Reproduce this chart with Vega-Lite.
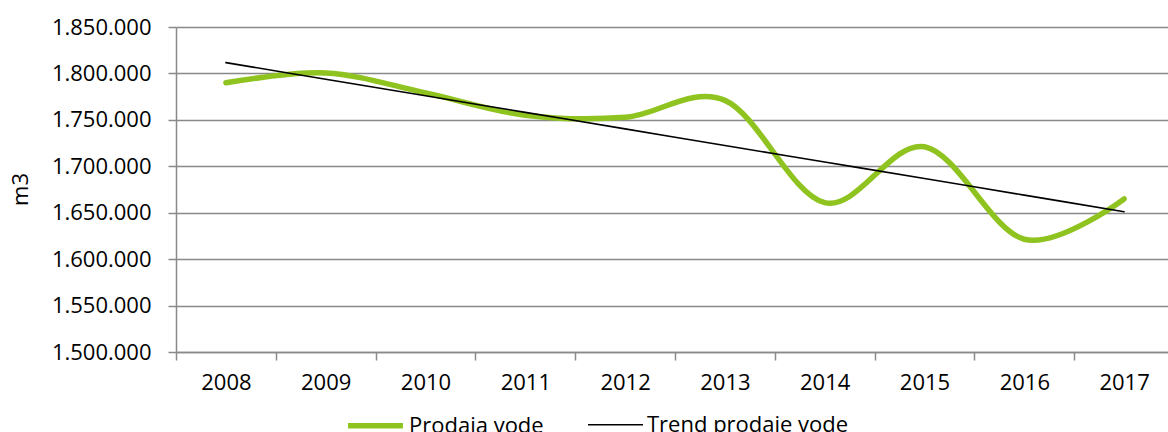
{
  "$schema": "https://vega.github.io/schema/vega-lite/v6.json",
  "autosize": "none",
  "width": 998,
  "height": 325,
  "padding": {"left": 176, "top": 27, "right": 0, "bottom": 80},
  "background": "white",
  "config": {
    "locale": {"number": {"decimal": ",", "thousands": ".", "grouping": [3], "currency": ["", ""]}},
    "font": "Open Sans",
    "view": {"stroke": null},
    "axis": {"labelFont": "Open Sans", "titleFont": "Open Sans", "labelColor": "#000000", "titleColor": "#000000", "domainColor": "#898989", "tickColor": "#898989", "gridColor": "#898989", "domainWidth": 1.5, "tickWidth": 1.5, "gridWidth": 1.5},
    "legend": {"padding": 0, "labelLimit": 400}
  },
  "data": {
    "values": [
      {"year": "2008", "Prodaja vode": 1790000, "Trend prodaje vode": 1811600},
      {"year": "2009", "Prodaja vode": 1800500, "Trend prodaje vode": 1793800},
      {"year": "2010", "Prodaja vode": 1779000, "Trend prodaje vode": 1775900},
      {"year": "2011", "Prodaja vode": 1755000, "Trend prodaje vode": 1758100},
      {"year": "2012", "Prodaja vode": 1752700, "Trend prodaje vode": 1740300},
      {"year": "2013", "Prodaja vode": 1771000, "Trend prodaje vode": 1722400},
      {"year": "2014", "Prodaja vode": 1660800, "Trend prodaje vode": 1704600},
      {"year": "2015", "Prodaja vode": 1721000, "Trend prodaje vode": 1686800},
      {"year": "2016", "Prodaja vode": 1621400, "Trend prodaje vode": 1668900},
      {"year": "2017", "Prodaja vode": 1664800, "Trend prodaje vode": 1651100}
    ]
  },
  "transform": [
    {"fold": ["Prodaja vode", "Trend prodaje vode"], "as": ["series", "value"]}
  ],
  "mark": {"type": "line", "interpolate": "cardinal", "strokeCap": "round", "clip": false},
  "encoding": {
    "x": {
      "field": "year", "type": "ordinal", "bandPosition": 0.5,
      "scale": {"type": "band", "paddingInner": 0, "paddingOuter": 0},
      "axis": {"title": null, "labelAngle": 0, "tickBand": "extent", "tickSize": 8, "labelPadding": 12, "labelFontSize": 22, "grid": false}
    },
    "y": {
      "field": "value", "type": "quantitative",
      "scale": {"domain": [1500000, 1850000], "nice": false, "zero": false},
      "axis": {"title": "m3", "titleFontSize": 22, "titleFontWeight": "normal", "titleAngle": -90, "titleX": -156, "titleY": 162, "titleAlign": "center", "titleBaseline": "middle",
        "values": [1500000, 1550000, 1600000, 1650000, 1700000, 1750000, 1800000, 1850000],
        "format": ",d", "tickSize": 8, "labelPadding": 17, "labelFontSize": 22, "grid": true}
    },
    "color": {
      "field": "series", "type": "nominal",
      "scale": {"domain": ["Prodaja vode", "Trend prodaje vode"], "range": ["#8fc31f", "#000000"]},
      "legend": {"title": null, "orient": "none", "legendX": 169, "legendY": 368, "direction": "horizontal", "labelFontSize": 22, "labelColor": "#000000", "labelLimit": 400, "symbolType": "stroke", "symbolSize": 3025, "labelOffset": 3, "columnPadding": 40}
    },
    "strokeWidth": {
      "field": "series", "type": "nominal",
      "scale": {"domain": ["Prodaja vode", "Trend prodaje vode"], "range": [5.5, 1.6]},
      "legend": {"title": null, "orient": "none", "legendX": 169, "legendY": 368, "direction": "horizontal", "labelFontSize": 22, "labelLimit": 400, "symbolType": "stroke", "symbolSize": 3025, "labelOffset": 3, "columnPadding": 40}
    }
  }
}
